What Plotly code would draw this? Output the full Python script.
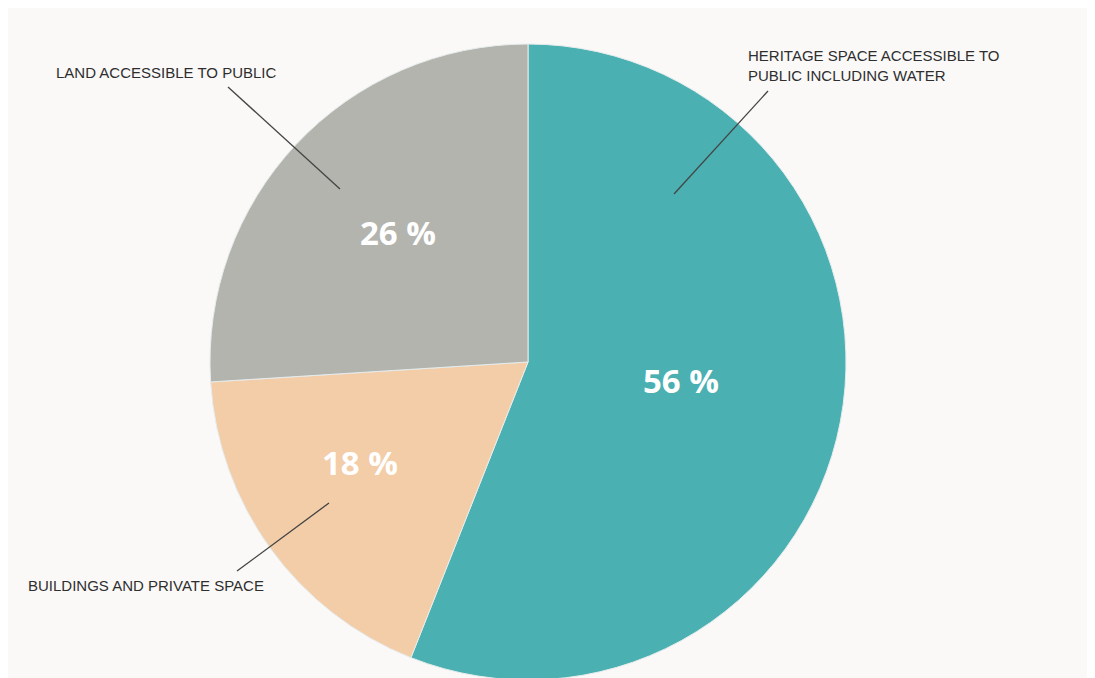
import plotly.graph_objects as go

labels = ["HERITAGE SPACE ACCESSIBLE TO<br>PUBLIC INCLUDING WATER",
          "BUILDINGS AND PRIVATE SPACE",
          "LAND ACCESSIBLE TO PUBLIC"]
values = [56, 18, 26]
pct_text = ["56 %", "18 %", "26 %"]
colors = ["#4AB0B2", "#F2CDA8", "#B3B4AE"]

W, H = 1095, 678
OFF = 8  # page body margin
cx, cy, R = 528 - OFF, 362 - OFF, 318

fig = go.Figure(go.Pie(
    labels=labels, values=values,
    textinfo="none",
    sort=False, direction="clockwise", rotation=0,
    marker=dict(colors=colors, line=dict(color="#E6ECEC", width=1)),
    domain=dict(x=[(cx - R) / W, (cx + R) / W], y=[(H - cy - R) / H, (H - cy + R) / H]),
    showlegend=False, hoverinfo="label+percent",
))

# percentage labels inside slices (screen coords of label centres)
pct_pos = [(681, 380), (360, 462), (398, 232)]
for t, (px, py) in zip(pct_text, pct_pos):
    fig.add_annotation(text=t, x=(px - OFF) / W, y=1 - (py - OFF) / H, xref="paper", yref="paper",
                       xanchor="center", yanchor="middle", showarrow=False,
                       font=dict(family="Open Sans", size=33, color="white", weight="bold"))

# outside labels with leader lines
ext = [
    dict(text=labels[0], x=746, y=66, line=(768, 91, 674, 194)),
    dict(text=labels[1], x=26, y=585, line=(329, 503, 237, 571)),
    dict(text=labels[2], x=54, y=73, line=(228, 87, 340, 189)),
]
for e in ext:
    fig.add_annotation(text=e["text"], x=(e["x"] - OFF) / W, y=1 - (e["y"] - OFF) / H,
                       xref="paper", yref="paper",
                       xanchor="left", yanchor="middle", align="left", showarrow=False,
                       font=dict(family="Liberation Sans, Arial", size=15, color="#2E2E2E"))
    x0, y0, x1, y1 = [v - OFF for v in e["line"]]
    fig.add_shape(type="line", xref="paper", yref="paper",
                  x0=x0 / W, y0=1 - y0 / H, x1=x1 / W, y1=1 - y1 / H,
                  line=dict(color="#444444", width=1.3))

fig.update_layout(width=W, height=H, margin=dict(l=0, r=0, t=0, b=0),
                  paper_bgcolor="#FAF9F8", plot_bgcolor="#FAF9F8")
fig.write_html("out.html")
